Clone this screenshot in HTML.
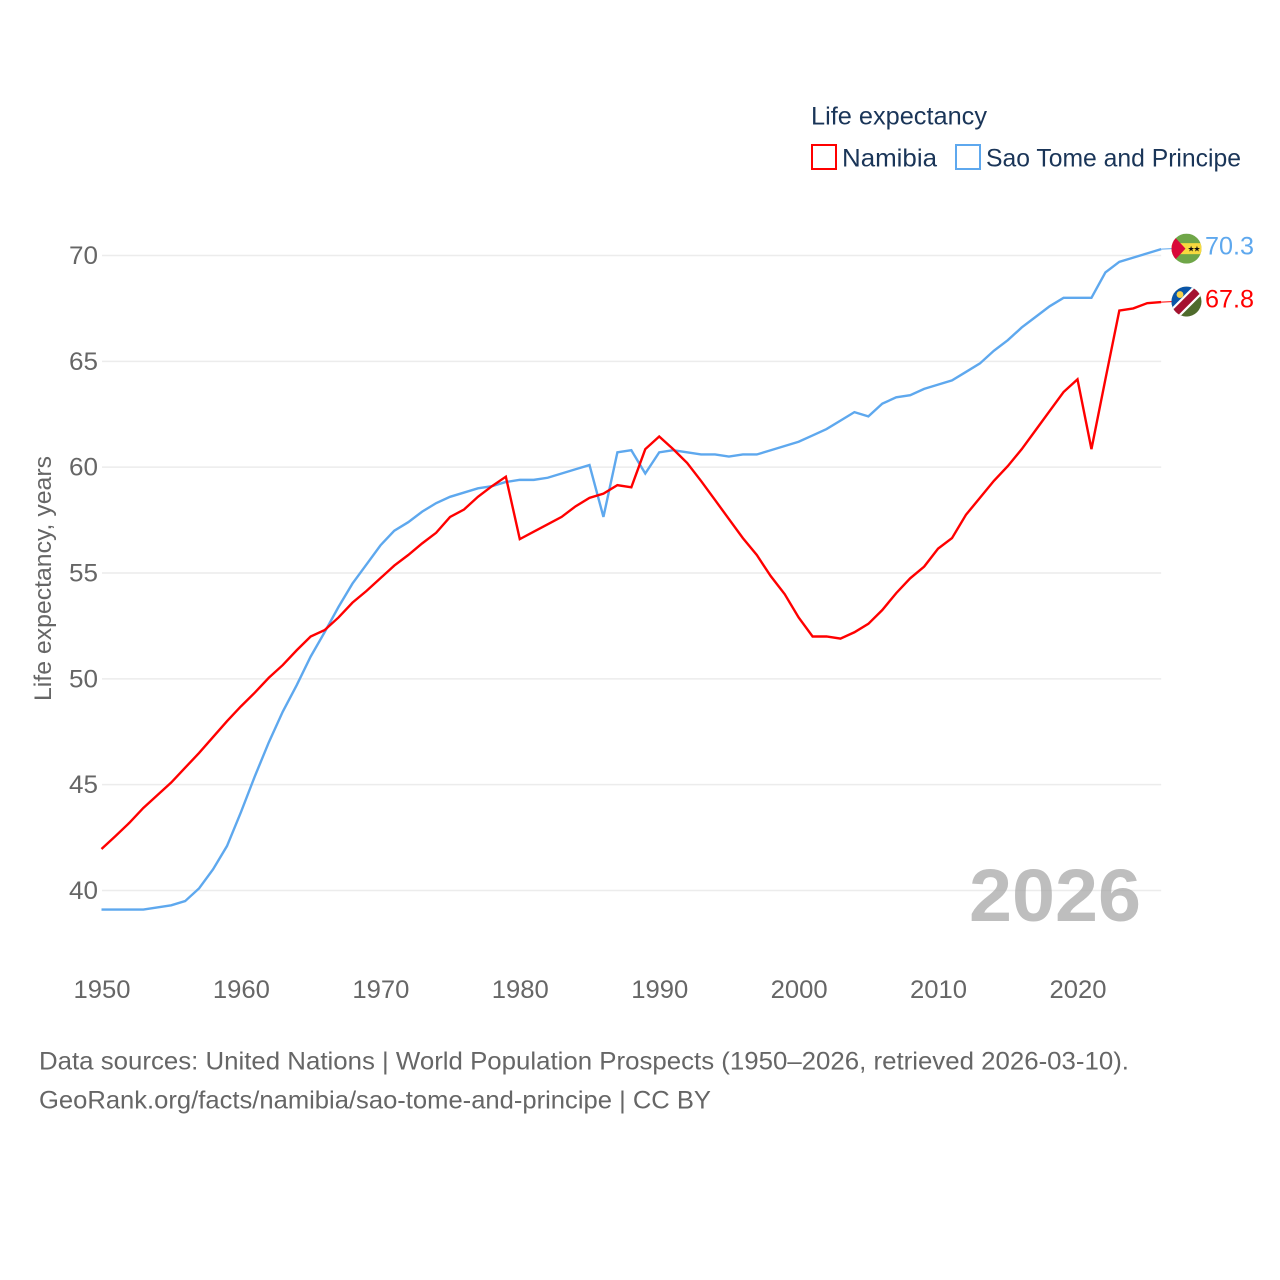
<!DOCTYPE html>
<html lang="en">
<head>
<meta charset="utf-8">
<title>Life expectancy: Namibia and Sao Tome and Principe</title>
<style>
html,body{margin:0;padding:0;background:#fff;width:1280px;height:1280px;overflow:hidden}
svg{display:block}
text{font-family:"Liberation Sans",sans-serif}
</style>
</head>
<body>
<svg id="chart" xmlns="http://www.w3.org/2000/svg" width="1280" height="1280" viewBox="0 0 1280 1280">
  <defs>
    <clipPath id="flag-clip-stp"><circle cx="0" cy="0" r="15"/></clipPath>
    <clipPath id="flag-clip-nam"><circle cx="0" cy="0" r="15"/></clipPath>
  </defs>
  <g id="grid"></g>
  <text x="969" y="921" font-size="74" font-weight="700" fill="#a8a8a8" fill-opacity="0.75" textLength="172" lengthAdjust="spacingAndGlyphs">2026</text>
  <g id="y-ticks"></g>
  <g id="x-ticks"></g>
  <text transform="translate(51,701) rotate(-90)" font-size="24" fill="#666" textLength="245" lengthAdjust="spacingAndGlyphs">Life expectancy, years</text>
  <g id="series"></g>

  <g id="legend">
    <text x="811" y="124.5" font-size="25" fill="#1a3558" textLength="176" lengthAdjust="spacingAndGlyphs">Life expectancy</text>
    <g>
      <rect x="812" y="145" width="24" height="24" fill="#fff" stroke="#ff0000" stroke-width="2"/>
      <text x="842" y="166.5" font-size="25" fill="#1a3558" textLength="95" lengthAdjust="spacingAndGlyphs">Namibia</text>
    </g>
    <g>
      <rect x="956" y="145" width="24" height="24" fill="#fff" stroke="#5ea8ee" stroke-width="2"/>
      <text x="986" y="166.5" font-size="25" fill="#1a3558" textLength="255" lengthAdjust="spacingAndGlyphs">Sao Tome and Principe</text>
    </g>
  </g>

  <g id="flag-stp">
    <g clip-path="url(#flag-clip-stp)">
      <rect x="-15" y="-15" width="30" height="30" fill="#6fa648"/>
      <rect x="-15" y="-5.5" width="30" height="11" fill="#f7d93f"/>
      <polygon points="-15,-15 -1,0 -15,15" fill="#d9083a"/>
      <text x="1" y="3" font-size="8" fill="#111" textLength="13" lengthAdjust="spacing">★★</text>
    </g>
  </g>
  <g id="flag-nam">
    <g clip-path="url(#flag-clip-nam)">
      <rect x="-15" y="-15" width="30" height="30" fill="#4f6b2c"/>
      <polygon points="-15,-15 15,-15 -15,15" fill="#0a55a8"/>
      <line x1="-15" y1="15" x2="15" y2="-15" stroke="#fff" stroke-width="12"/>
      <line x1="-15" y1="15" x2="15" y2="-15" stroke="#a5122f" stroke-width="7.5"/>
      <circle cx="-6.5" cy="-7" r="3.4" fill="#f4d24a"/>
    </g>
  </g>
  <text id="end-label-stp" x="1205" font-size="25" fill="#5ea8ee" textLength="49" lengthAdjust="spacingAndGlyphs"></text>
  <text id="end-label-nam" x="1205" font-size="25" fill="#ff0000" textLength="49" lengthAdjust="spacingAndGlyphs"></text>

  <text x="39" y="1069.5" font-size="25" fill="#666" textLength="1090" lengthAdjust="spacingAndGlyphs">Data sources: United Nations | World Population Prospects (1950–2026, retrieved 2026-03-10).</text>
  <text x="39" y="1108.5" font-size="25" fill="#666" textLength="672" lengthAdjust="spacingAndGlyphs">GeoRank.org/facts/namibia/sao-tome-and-principe | CC BY</text>
</svg>
<script>
const startYear = 1950;
const yTickValues = [40, 45, 50, 55, 60, 65, 70];
const xTickValues = [1950, 1960, 1970, 1980, 1990, 2000, 2010, 2020];
const namibiaValues = [
  41.96, 42.57, 43.2, 43.9, 44.5, 45.1, 45.8, 46.5, 47.25, 48.0,
  48.7, 49.35, 50.05, 50.65, 51.35, 52.0, 52.3, 52.9, 53.6, 54.15,
  54.75, 55.35, 55.85, 56.4, 56.9, 57.65, 58.0, 58.6, 59.1, 59.55,
  56.6, 56.95, 57.3, 57.65, 58.15, 58.55, 58.75, 59.15, 59.05, 60.85,
  61.45, 60.85, 60.2, 59.35, 58.45, 57.55, 56.65, 55.85, 54.85, 54.0,
  52.9, 52.0, 52.0, 51.9, 52.2, 52.6, 53.25, 54.05, 54.75, 55.3,
  56.15, 56.65, 57.75, 58.55, 59.35, 60.05, 60.85, 61.75, 62.65, 63.55,
  64.15, 60.85, 64.15, 67.4, 67.5, 67.75, 67.8
];
const saoTomeValues = [
  39.1, 39.1, 39.1, 39.1, 39.2, 39.3, 39.5, 40.1, 41.0, 42.1,
  43.7, 45.4, 47.0, 48.45, 49.7, 51.05, 52.2, 53.4, 54.5, 55.4,
  56.3, 57.0, 57.4, 57.9, 58.3, 58.6, 58.8, 59.0, 59.1, 59.3,
  59.4, 59.4, 59.5, 59.7, 59.9, 60.1, 57.65, 60.7, 60.8, 59.7,
  60.7, 60.8, 60.7, 60.6, 60.6, 60.5, 60.6, 60.6, 60.8, 61.0,
  61.2, 61.5, 61.8, 62.2, 62.6, 62.4, 63.0, 63.3, 63.4, 63.7,
  63.9, 64.1, 64.5, 64.9, 65.5, 66.0, 66.6, 67.1, 67.6, 68.0,
  68.0, 68.0, 69.2, 69.7, 69.9, 70.1, 70.3
];

const SVG_NS = 'http://www.w3.org/2000/svg';
function xScale(year) { return 101.5 + (year - 1950) * (976 / 70); }
function yScale(value) { return 890.5 - (value - 40) * (635 / 30); }
const plotRight = xScale(2026);

const grid = document.getElementById('grid');
const yTicks = document.getElementById('y-ticks');
yTickValues.forEach(function (v) {
  const line = document.createElementNS(SVG_NS, 'line');
  
  
  line.setAttribute('x1', 102);
  line.setAttribute('x2', plotRight);
  line.setAttribute('y1', yScale(v));
  line.setAttribute('y2', yScale(v));
  line.setAttribute('stroke', '#ececec');
  line.setAttribute('stroke-width', '1.5');
  grid.appendChild(line);

  const label = document.createElementNS(SVG_NS, 'text');
  
  
  label.setAttribute('x', 98);
  label.setAttribute('y', yScale(v) + 8.5);
  label.setAttribute('text-anchor', 'end');
  label.setAttribute('font-size', '25');
  label.setAttribute('fill', '#666');
  label.setAttribute('textLength', '29');
  label.setAttribute('lengthAdjust', 'spacingAndGlyphs');
  label.textContent = String(v);
  yTicks.appendChild(label);
});

const xTicks = document.getElementById('x-ticks');
xTickValues.forEach(function (y) {
  const label = document.createElementNS(SVG_NS, 'text');
  
  
  label.setAttribute('x', xScale(y) - 28);
  label.setAttribute('y', 998);
  label.setAttribute('font-size', '25');
  label.setAttribute('fill', '#666');
  label.setAttribute('textLength', '57');
  label.setAttribute('lengthAdjust', 'spacingAndGlyphs');
  label.textContent = String(y);
  xTicks.appendChild(label);
});

function linePoints(values) {
  return values.map(function (v, i) {
    return xScale(startYear + i).toFixed(2) + ',' + yScale(v).toFixed(2);
  }).join(' ');
}

const seriesGroup = document.getElementById('series');

const saoTomeLine = document.createElementNS(SVG_NS, 'polyline');


saoTomeLine.setAttribute('points', linePoints(saoTomeValues));
saoTomeLine.setAttribute('fill', 'none');
saoTomeLine.setAttribute('stroke', '#5ea8ee');
saoTomeLine.setAttribute('stroke-width', '2.4');
seriesGroup.appendChild(saoTomeLine);

const namibiaLine = document.createElementNS(SVG_NS, 'polyline');


namibiaLine.setAttribute('points', linePoints(namibiaValues));
namibiaLine.setAttribute('fill', 'none');
namibiaLine.setAttribute('stroke', '#ff0000');
namibiaLine.setAttribute('stroke-width', '2.4');
seriesGroup.appendChild(namibiaLine);

const endX = xScale(2026);
const stpEnd = saoTomeValues[saoTomeValues.length - 1];
const namEnd = namibiaValues[namibiaValues.length - 1];

const stpConnector = document.createElementNS(SVG_NS, 'line');


stpConnector.setAttribute('x1', endX);
stpConnector.setAttribute('x2', 1172);
stpConnector.setAttribute('y1', yScale(stpEnd));
stpConnector.setAttribute('y2', yScale(stpEnd) - 0.5);
stpConnector.setAttribute('stroke', '#5ea8ee');
stpConnector.setAttribute('stroke-width', '1');
seriesGroup.appendChild(stpConnector);

const namConnector = document.createElementNS(SVG_NS, 'line');


namConnector.setAttribute('x1', endX);
namConnector.setAttribute('x2', 1172);
namConnector.setAttribute('y1', yScale(namEnd));
namConnector.setAttribute('y2', yScale(namEnd) - 0.5);
namConnector.setAttribute('stroke', '#ff0000');
namConnector.setAttribute('stroke-width', '1');
seriesGroup.appendChild(namConnector);

document.getElementById('flag-stp').setAttribute('transform', 'translate(1186.5,' + (yScale(stpEnd) - 0.5) + ')');
document.getElementById('flag-nam').setAttribute('transform', 'translate(1186.5,' + (yScale(namEnd) - 0.5) + ')');

const stpLabel = document.getElementById('end-label-stp');
stpLabel.setAttribute('y', yScale(stpEnd) + 5.5);
stpLabel.textContent = stpEnd.toFixed(1);
const namLabel = document.getElementById('end-label-nam');
namLabel.setAttribute('y', yScale(namEnd) + 5.5);
namLabel.textContent = namEnd.toFixed(1);
</script>
</body>
</html>
